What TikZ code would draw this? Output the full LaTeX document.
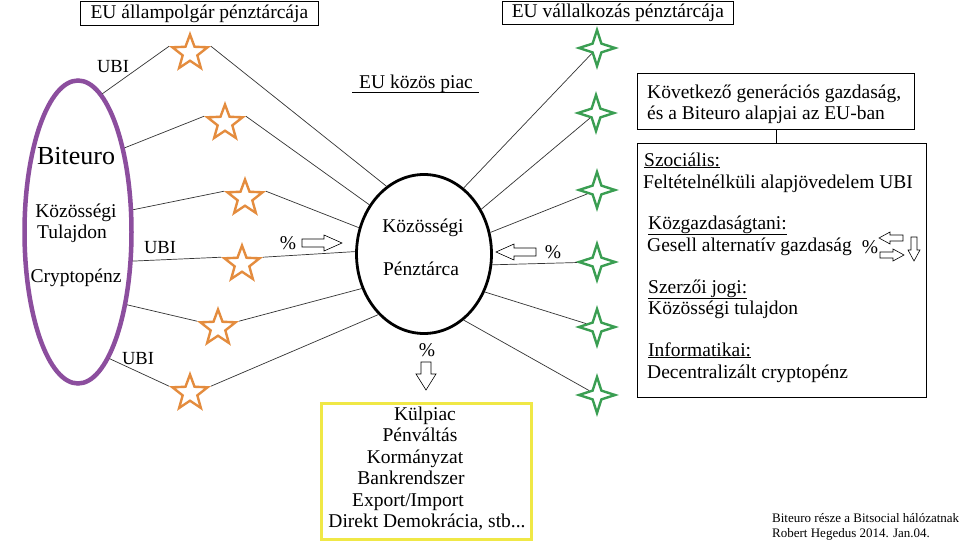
\documentclass[tikz,border=0pt]{standalone}
\usepackage{fontspec}
\setmainfont{Liberation Serif}
\usetikzlibrary{shapes.geometric}
\definecolor{pur}{RGB}{140,78,158}
\definecolor{ora}{RGB}{228,140,62}
\definecolor{grn}{RGB}{58,158,82}
\definecolor{yel}{RGB}{240,232,70}
\begin{document}
\begin{tikzpicture}[x=1pt,y=-1pt,
  txt/.style={font=\fontsize{19.5}{22}\selectfont, inner sep=0, anchor=base},
  txtl/.style={txt, anchor=base west},
  small/.style={font=\fontsize{18.5}{21}\selectfont, inner sep=0, anchor=base},
  ostar/.style={star, star points=5, star point ratio=2.4, draw=ora, line width=2.4pt, minimum size=37pt, inner sep=0},
  gstar/.style={star, star points=4, star point ratio=2.9, draw=grn, line width=2.4pt, minimum size=36pt, inner sep=0},
  conn/.style={line width=0.7pt, black!80},
  hbox/.style={draw, line width=0.7pt, inner sep=0, anchor=north west},
  bigarrow/.pic={\draw[line width=0.6pt, fill=white] (0,-4) -- (22,-4) -- (22,-8) -- (40,0) -- (22,8) -- (22,4) -- (0,4) -- cycle;},
  downarrow/.pic={\draw[line width=0.6pt, fill=white] (0,-5) -- (12,-5) -- (12,-10) -- (28,0) -- (12,10) -- (12,5) -- (0,5) -- cycle;},
  smallarrow/.pic={\draw[line width=0.6pt, fill=white] (0,-3) -- (13,-3) -- (13,-6) -- (24,0) -- (13,6) -- (13,3) -- (0,3) -- cycle;}
]
\useasboundingbox (0,0) rectangle (960,543);
\fill[white] (0,0) rectangle (960,543);

% header boxes
\node[hbox, minimum width=238pt, minimum height=24pt, font=\fontsize{19.5}{22}\selectfont] (h1) at (80,1) {EU állampolgár pénztárcája};
\node[hbox, minimum width=231pt, minimum height=23pt, font=\fontsize{19.5}{22}\selectfont] (h2) at (502,1) {EU vállalkozás pénztárcája};

% left ellipse
\node[ellipse, draw=pur, line width=4.5pt, minimum width=107pt, minimum height=303pt, inner sep=0] (L) at (78,232) {};
\node[inner sep=0, anchor=base, font=\fontsize{26}{30}\selectfont] (t1) at (76,164) {Biteuro};
\node[txt] (t2) at (76,217) {Közösségi};
\node[txt] (t3) at (72,238) {Tulajdon};
\node[txt] (t4) at (76,282) {Cryptopénz};

% central ellipse
\node[ellipse, draw, line width=2.8pt, minimum width=135pt, minimum height=159pt, inner sep=0] (C) at (424,254) {};
\node[txt] (c1) at (423,232) {Közösségi};
\node[txt] (c2) at (421,275) {Pénztárca};

\node[txt] (piac) at (416,88) {EU közös piac};
\coordinate (u1) at (352,92);
\coordinate (u2) at (479,92);
\draw[line width=0.7pt] (u1) -- (u2);

% orange stars
\node[ostar] (s1) at (190,53) {};
\node[ostar] (s2) at (225,123) {};
\node[ostar] (s3) at (245,198) {};
\node[ostar] (s4) at (242,264) {};
\node[ostar] (s5) at (218,328) {};
\node[ostar] (s6) at (190,393) {};

% green stars
\node[gstar] (g1) at (597,48) {};
\node[gstar] (g2) at (596,113) {};
\node[gstar] (g3) at (597,190) {};
\node[gstar] (g4) at (597,262) {};
\node[gstar] (g5) at (597,327) {};
\node[gstar] (g6) at (597,395) {};

% connectors left
\draw[conn] (L.80) -- (s1.outer point 2);
\draw[conn] (s1.outer point 5) -- (C.119);
\draw[conn] (L.61) -- (s2.outer point 2);
\draw[conn] (s2.outer point 5) -- (C.138);
\draw[conn] (L.22) -- (s3.outer point 2);
\draw[conn] (s3.outer point 5) -- (C.158);
\draw[conn] (L.-28) -- (s4.outer point 2);
\draw[conn] (s4.outer point 5) -- (C.178);
\draw[conn] (L.-56) -- (s5.outer point 2);
\draw[conn] (s5.outer point 5) -- (C.209);
\draw[conn] (L.-76) -- (s6.outer point 2);
\draw[conn] (s6.outer point 5) -- (C.233);

% connectors right
\draw[conn] (C.59) -- (g1);
\draw[conn] (C.38) -- (g2);
\draw[conn] (C.18) -- (g3);
\draw[conn] (C.-9) -- (g4);
\draw[conn] (C.-32) -- (g5);
\draw[conn] (C.-59) -- (g6);

% UBI labels
\node[small] (ubi1) at (113,72) {UBI};
\node[small] (ubi2) at (160,253) {UBI};
\node[small] (ubi3) at (138,364) {UBI};

% percent arrows
\node[txt] (p1) at (288,249) {\%};
\pic at (302,243) {bigarrow};
\node[txt] (p2) at (553,258) {\%};
\pic[rotate=180] at (536,252) {bigarrow};
\node[txt] (p3) at (427,356) {\%};
\pic[rotate=-90] at (426,362) {downarrow};

% right boxes
\node[hbox, minimum width=277pt, minimum height=56pt] (B1) at (637,73) {};
\node[hbox, minimum width=289pt, minimum height=254pt] (B2) at (637,143) {};
\draw[line width=0.7pt] (B1.south) -- (B1.south |- B2.north);
\node[txtl] (r1) at (647,98) {Következő generációs gazdaság,};
\node[txtl] (r2) at (647,119) {és a Biteuro alapjai az EU-ban};
\node[txtl] (r3) at (644,166) {\underline{Szociális:}};
\node[txtl] (r4) at (643,188) {Feltételnélküli alapjövedelem UBI};
\node[txtl] (r5) at (648,229) {\underline{Közgazdaságtani:}};
\node[txtl] (r6) at (647,251) {Gesell alternatív gazdaság};
\node[txtl] (r7) at (648,293) {\underline{Szerzői jogi:}};
\node[txtl] (r8) at (648,314) {Közösségi tulajdon};
\node[txtl] (r9) at (648,356) {\underline{Informatikai:}};
\node[txtl] (r10) at (647,378) {Decentralizált cryptopénz};
\node[txt] (p4) at (870,253) {\%};
\pic[rotate=180] at (903,238) {smallarrow};
\pic at (880,255) {smallarrow};
\pic[rotate=-90] at (914,237) {smallarrow};

% yellow box
\node[draw=yel, line width=3pt, minimum width=210pt, minimum height=136pt, inner sep=0, anchor=north west] (Y) at (320,402) {};
\node[txt] (y1) at (425,420) {Külpiac};
\node[txt] (y2) at (420,441) {Pénváltás};
\node[txt] (y3) at (415,463) {Kormányzat};
\node[txt] (y4) at (411,484) {Bankrendszer};
\node[txt] (y5) at (408,506) {Export/Import};
\node[txt] (y6) at (427,527) {Direkt Demokrácia, stb...};

% footer
\node[inner sep=0, anchor=base west, font=\fontsize{13}{15}\selectfont] (f1) at (772,522) {Biteuro része a Bitsocial hálózatnak};
\node[inner sep=0, anchor=base west, font=\fontsize{13}{15}\selectfont] (f2) at (772,537) {Robert Hegedus 2014. Jan.04.};
\end{tikzpicture}
\end{document}
